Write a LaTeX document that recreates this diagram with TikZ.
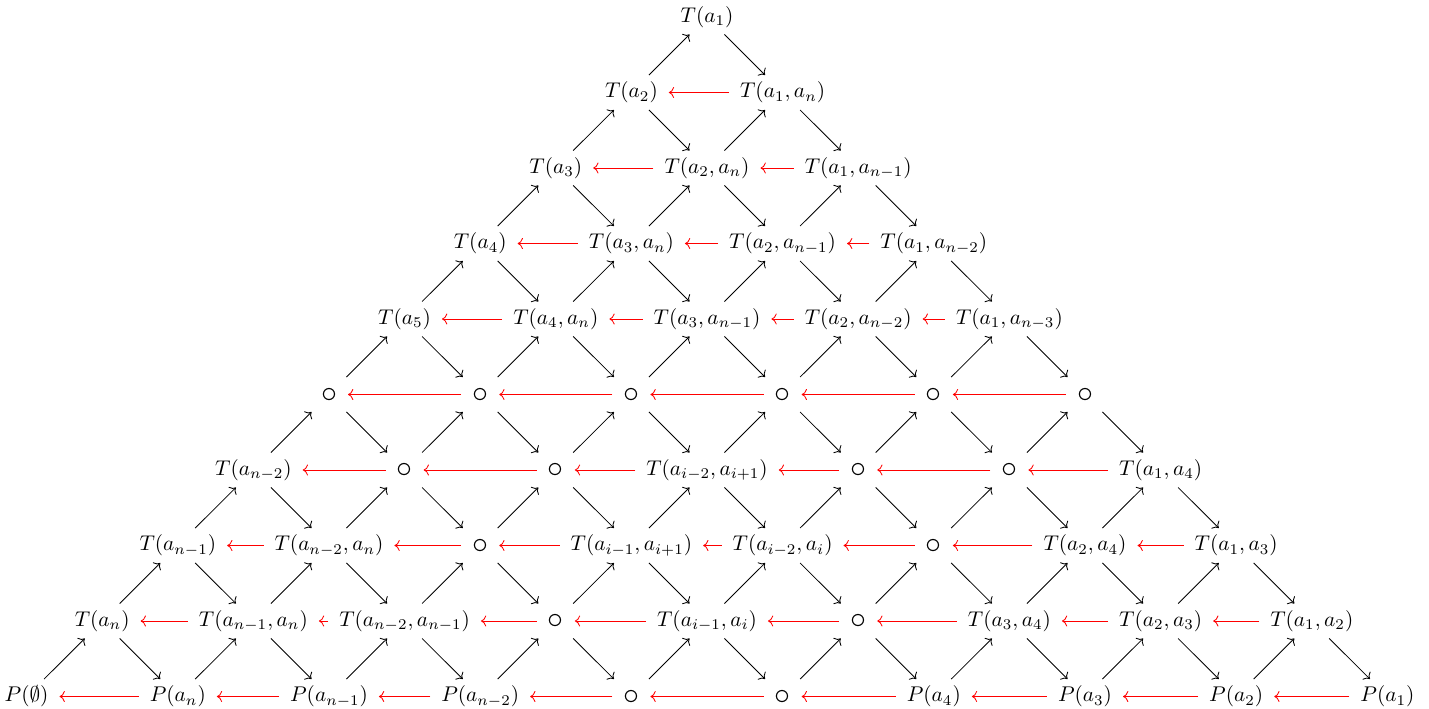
\documentclass[tikz,border=0pt]{standalone}
\usetikzlibrary{arrows.meta}
\tikzset{
  cell/.style={inner xsep=5pt, inner ysep=3pt, text height=7.5pt, text depth=2.5pt},
  up/.style={-{Computer Modern Rightarrow}, line width=0.4pt},
  back/.style={-{Computer Modern Rightarrow}, red, line width=0.4pt},
}
\newcommand\Nd[3]{\node[cell] (n-#1-#2) at ({707-75.6*#1+151.2*#2},{17+75.5*#1}) {#3};}
\newcommand\Ci{\raisebox{-1.25pt}{\scalebox{1.5}{$\circ$}}}
\begin{document}
\begin{tikzpicture}[x=0.47pt,y=-0.47pt]
\useasboundingbox (0,0) rectangle (1429,708);
% row 0
\Nd{0}{0}{$T(a_1)$}
% row 1
\Nd{1}{0}{$T(a_2)$}
\Nd{1}{1}{$T(a_1,a_n)$}
% row 2
\Nd{2}{0}{$T(a_3)$}
\Nd{2}{1}{$T(a_2,a_n)$}
\Nd{2}{2}{$T(a_1,a_{n-1})$}
% row 3
\Nd{3}{0}{$T(a_4)$}
\Nd{3}{1}{$T(a_3,a_n)$}
\Nd{3}{2}{$T(a_2,a_{n-1})$}
\Nd{3}{3}{$T(a_1,a_{n-2})$}
% row 4
\Nd{4}{0}{$T(a_5)$}
\Nd{4}{1}{$T(a_4,a_n)$}
\Nd{4}{2}{$T(a_3,a_{n-1})$}
\Nd{4}{3}{$T(a_2,a_{n-2})$}
\Nd{4}{4}{$T(a_1,a_{n-3})$}
% row 5
\Nd{5}{0}{\Ci}
\Nd{5}{1}{\Ci}
\Nd{5}{2}{\Ci}
\Nd{5}{3}{\Ci}
\Nd{5}{4}{\Ci}
\Nd{5}{5}{\Ci}
% row 6
\Nd{6}{0}{$T(a_{n-2})$}
\Nd{6}{1}{\Ci}
\Nd{6}{2}{\Ci}
\Nd{6}{3}{$T(a_{i-2},a_{i+1})$}
\Nd{6}{4}{\Ci}
\Nd{6}{5}{\Ci}
\Nd{6}{6}{$T(a_1,a_4)$}
% row 7
\Nd{7}{0}{$T(a_{n-1})$}
\Nd{7}{1}{$T(a_{n-2},a_n)$}
\Nd{7}{2}{\Ci}
\Nd{7}{3}{$T(a_{i-1},a_{i+1})$}
\Nd{7}{4}{$T(a_{i-2},a_i)$}
\Nd{7}{5}{\Ci}
\Nd{7}{6}{$T(a_2,a_4)$}
\Nd{7}{7}{$T(a_1,a_3)$}
% row 8
\Nd{8}{0}{$T(a_n)$}
\Nd{8}{1}{$T(a_{n-1},a_n)$}
\Nd{8}{2}{$T(a_{n-2},a_{n-1})$}
\Nd{8}{3}{\Ci}
\Nd{8}{4}{$T(a_{i-1},a_i)$}
\Nd{8}{5}{\Ci}
\Nd{8}{6}{$T(a_3,a_4)$}
\Nd{8}{7}{$T(a_2,a_3)$}
\Nd{8}{8}{$T(a_1,a_2)$}
% row 9
\Nd{9}{0}{$P(\emptyset)$}
\Nd{9}{1}{$P(a_n)$}
\Nd{9}{2}{$P(a_{n-1})$}
\Nd{9}{3}{$P(a_{n-2})$}
\Nd{9}{4}{\Ci}
\Nd{9}{5}{\Ci}
\Nd{9}{6}{$P(a_4)$}
\Nd{9}{7}{$P(a_3)$}
\Nd{9}{8}{$P(a_2)$}
\Nd{9}{9}{$P(a_1)$}
% diagonal arrows
\foreach \k in {0,...,8} {
  \pgfmathtruncatemacro\kk{\k+1}
  \foreach \j in {0,...,\k} {
    \pgfmathtruncatemacro\jj{\j+1}
    \draw[up] (n-\kk-\j) -- (n-\k-\j);
    \draw[up] (n-\k-\j) -- (n-\kk-\jj);
  }
}
% red horizontal arrows
\foreach \k in {1,...,9} {
  \pgfmathtruncatemacro\km{\k-1}
  \foreach \j in {0,...,\km} {
    \pgfmathtruncatemacro\jj{\j+1}
    \draw[back] (n-\k-\jj) -- (n-\k-\j);
  }
}
\end{tikzpicture}
\end{document}
